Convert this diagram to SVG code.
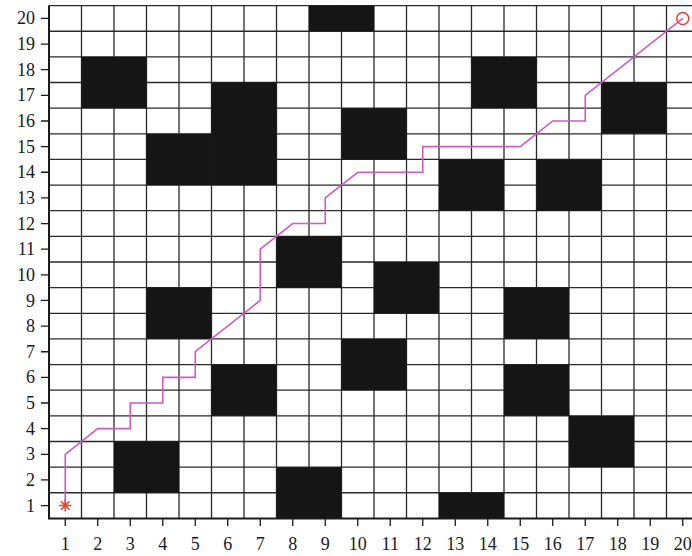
<svg xmlns="http://www.w3.org/2000/svg" width="692" height="556" viewBox="0 0 692 556">
<style>
.grid{stroke:#2a2a2a;stroke-width:1.3;fill:none}
.axis{stroke:#1a1a1a;stroke-width:2;fill:none}
.tick{stroke:#1a1a1a;stroke-width:1.3}
.obs rect{fill:#151515}
text{font-family:"Liberation Serif","Times New Roman",serif;font-size:18px;fill:#1a1a1a}
.path{stroke:#cc5cc4;stroke-width:1.6;fill:none;stroke-linejoin:miter}
.mk{stroke:#e8402a;stroke-width:1.5;fill:none}
</style>
<rect width="692" height="556" fill="#ffffff"/>
<g id="grid" class="grid">
<path d="M49 5.6H699M49 31.24H699M49 56.88H699M49 82.52H699M49 108.16H699M49 133.8H699M49 159.44H699M49 185.08H699M49 210.72H699M49 236.36H699M49 262H699M49 287.64H699M49 313.28H699M49 338.92H699M49 364.56H699M49 390.2H699M49 415.84H699M49 441.48H699M49 467.12H699M49 492.76H699"/>
<path d="M81.5 5.6V518.4M114 5.6V518.4M146.5 5.6V518.4M179 5.6V518.4M211.5 5.6V518.4M244 5.6V518.4M276.5 5.6V518.4M309 5.6V518.4M341.5 5.6V518.4M374 5.6V518.4M406.5 5.6V518.4M439 5.6V518.4M471.5 5.6V518.4M504 5.6V518.4M536.5 5.6V518.4M569 5.6V518.4M601.5 5.6V518.4M634 5.6V518.4M666.5 5.6V518.4"/>
</g>
<g id="obstacles" class="obs">
<rect x="309" y="5.6" width="65" height="25.64"/>
<rect x="81.5" y="56.88" width="65" height="51.28"/>
<rect x="211.5" y="82.52" width="65" height="102.56"/>
<rect x="146.5" y="133.8" width="65" height="51.28"/>
<rect x="341.5" y="108.16" width="65" height="51.28"/>
<rect x="471.5" y="56.88" width="65" height="51.28"/>
<rect x="601.5" y="82.52" width="65" height="51.28"/>
<rect x="439" y="159.44" width="65" height="51.28"/>
<rect x="536.5" y="159.44" width="65" height="51.28"/>
<rect x="276.5" y="236.36" width="65" height="51.28"/>
<rect x="374" y="262" width="65" height="51.28"/>
<rect x="146.5" y="287.64" width="65" height="51.28"/>
<rect x="504" y="287.64" width="65" height="51.28"/>
<rect x="341.5" y="338.92" width="65" height="51.28"/>
<rect x="211.5" y="364.56" width="65" height="51.28"/>
<rect x="504" y="364.56" width="65" height="51.28"/>
<rect x="569" y="415.84" width="65" height="51.28"/>
<rect x="114" y="441.48" width="65" height="51.28"/>
<rect x="276.5" y="467.12" width="65" height="51.28"/>
<rect x="439" y="492.76" width="65" height="25.64"/>
</g>
<g id="axes">
<path class="axis" d="M49 5.6V518.4H699"/>
<path class="tick" d="M41 505.58H49M41 479.94H49M41 454.3H49M41 428.66H49M41 403.02H49M41 377.38H49M41 351.74H49M41 326.1H49M41 300.46H49M41 274.82H49M41 249.18H49M41 223.54H49M41 197.9H49M41 172.26H49M41 146.62H49M41 120.98H49M41 95.34H49M41 69.7H49M41 44.06H49M41 18.42H49"/>
<path class="tick" d="M65.25 518.4V526M97.75 518.4V526M130.25 518.4V526M162.75 518.4V526M195.25 518.4V526M227.75 518.4V526M260.25 518.4V526M292.75 518.4V526M325.25 518.4V526M357.75 518.4V526M390.25 518.4V526M422.75 518.4V526M455.25 518.4V526M487.75 518.4V526M520.25 518.4V526M552.75 518.4V526M585.25 518.4V526M617.75 518.4V526M650.25 518.4V526M682.75 518.4V526"/>
<g text-anchor="end">
<text x="35" y="511.6">1</text><text x="35" y="486">2</text><text x="35" y="460.3">3</text><text x="35" y="434.7">4</text><text x="35" y="409">5</text><text x="35" y="383.4">6</text><text x="35" y="357.7">7</text><text x="35" y="332.1">8</text><text x="35" y="306.5">9</text><text x="35" y="280.8">10</text><text x="35" y="255.2">11</text><text x="35" y="229.5">12</text><text x="35" y="203.9">13</text><text x="35" y="178.3">14</text><text x="35" y="152.6">15</text><text x="35" y="127">16</text><text x="35" y="101.3">17</text><text x="35" y="75.7">18</text><text x="35" y="50.1">19</text><text x="35" y="24.4">20</text>
</g>
<g text-anchor="middle">
<text x="65.25" y="550">1</text><text x="97.75" y="550">2</text><text x="130.25" y="550">3</text><text x="162.75" y="550">4</text><text x="195.25" y="550">5</text><text x="227.75" y="550">6</text><text x="260.25" y="550">7</text><text x="292.75" y="550">8</text><text x="325.25" y="550">9</text><text x="357.75" y="550">10</text><text x="390.25" y="550">11</text><text x="422.75" y="550">12</text><text x="455.25" y="550">13</text><text x="487.75" y="550">14</text><text x="520.25" y="550">15</text><text x="552.75" y="550">16</text><text x="585.25" y="550">17</text><text x="617.75" y="550">18</text><text x="650.25" y="550">19</text><text x="682.75" y="550">20</text>
</g>
</g>
<g id="connectors">
<polyline class="path" points="65.25,505.58 65.25,454.3 97.75,428.66 130.25,428.66 130.25,403.02 162.75,403.02 162.75,377.38 195.25,377.38 195.25,351.74 260.25,300.46 260.25,249.18 292.75,223.54 325.25,223.54 325.25,197.9 357.75,172.26 422.75,172.26 422.75,146.62 520.25,146.62 552.75,120.98 585.25,120.98 585.25,95.34 682.75,18.42"/>
</g>
<g id="start" class="mk">
<path d="M65.25 499.6V511.6M59.25 505.58H71.25M61 501.3L69.5 509.8M69.5 501.3L61 509.8"/>
</g>
<g id="goal" class="mk">
<circle cx="682.75" cy="18.42" r="6"/>
</g>
</svg>
